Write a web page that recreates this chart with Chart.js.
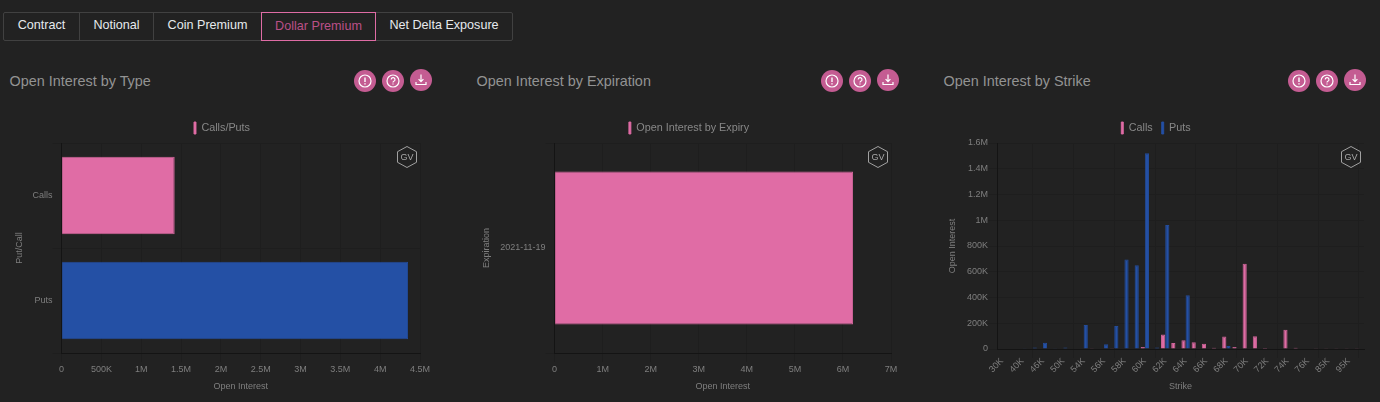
<!DOCTYPE html>
<html>
<head>
<meta charset="utf-8">
<title>Open Interest</title>
<script src="https://cdn.jsdelivr.net/npm/chart.js@4/dist/chart.umd.min.js"></script>
<style>
  html, body { margin: 0; padding: 0; background: #222222; width: 1380px; height: 402px; overflow: hidden; font-family: "Liberation Sans", Arial, sans-serif; }
  .tabs { position: absolute; left: 3px; top: 12px; width: 508px; height: 27px; border: 1px solid #414141; border-radius: 2px; }
  .tab { position: absolute; top: 0; height: 27px; line-height: 25px; text-align: center; font-size: 12.6px; color: #e6eaee; box-sizing: border-box; border-right: 1px solid #414141; }
  .tab.active { top: -1px; height: 29px; line-height: 27px; border: 1px solid #df6ca5; color: #bb5088; }
  .title { position: absolute; top: 71px; font-size: 14.4px; line-height: 20px; color: #939393; }
  .icon { position: absolute; width: 22px; height: 22px; }
  .gv { position: absolute; width: 24px; height: 26px; }
  canvas { position: absolute; top: 110px; height: 292px; }
</style>
</head>
<body>
<div class="tabs">
  <div class="tab" style="left:0;width:76px">Contract</div>
  <div class="tab" style="left:76px;width:74px">Notional</div>
  <div class="tab" style="left:150px;width:107px;border-right:0">Coin Premium</div>
  <div class="tab active" style="left:257px;width:115px">Dollar Premium</div>
  <div class="tab" style="left:372px;width:136px;border-right:0">Net Delta Exposure</div>
</div>
<div class="title" style="left:9.5px">Open Interest by Type</div>
<div class="title" style="left:476.5px">Open Interest by Expiration</div>
<div class="title" style="left:943.5px">Open Interest by Strike</div>
<div id="decor"></div>
<canvas id="typeChart" width="444" height="292" style="left:0;width:444px"></canvas>
<canvas id="expiryChart" width="444" height="292" style="left:467px;width:444px"></canvas>
<canvas id="strikeChart" width="443" height="292" style="left:934px;width:443px"></canvas>
<script>
const typeLabels = ['Calls', 'Puts'];
const typeValues = [1420000, 4350000];

const expiryLabels = ['2021-11-19'];
const expiryValues = [6210000];

const strikeLabels = ['30K', '35K', '40K', '45K', '46K', '48K', '50K', '52K', '54K', '55K', '56K', '57K',
  '58K', '59K', '60K', '61K', '62K', '63K', '64K', '65K', '66K', '67K', '68K', '69K',
  '70K', '71K', '72K', '73K', '74K', '75K', '76K', '80K', '85K', '90K', '95K', '100K'];
const strikeCalls = [0, 0, 0, 0, 0, 0, 0, 0, 0, 6000, 3000, 5000,
  0, 0, 15000, 3000, 113000, 46000, 67000, 52000, 41000, 10000, 98000, 15000,
  663000, 100000, 8000, 0, 150000, 10000, 4000, 5000, 2000, 1000, 1000, 1000];
const strikePuts = [0, 0, 2000, 12000, 49000, 2000, 12000, 0, 186000, 0, 36000, 178000,
  696000, 650000, 1520000, 12000, 964000, 3000, 417000, 0, 0, 0, 23000, 0,
  0, 0, 0, 0, 0, 0, 0, 0, 0, 0, 0, 0];

const COLORS = {
  pink: '#e06ca5',
  pinkEdge: 'rgba(224, 108, 165, 0.9)',
  blue: '#2450a5',
  blueEdge: 'rgba(36, 80, 165, 0.9)',
  grid: '#1e1e1e',
  zero: '#141414',
  text: '#7f7f7f',
  legend: '#888888',
  button: '#c45c92',
};

Chart.defaults.font.family = '"Liberation Sans", Arial, sans-serif';
Chart.defaults.animation = false;
Chart.defaults.responsive = false;

// the page centres each legend on the panel, not on the plot
const legendShift = {
  id: 'legendShift',
  afterLayout(chart, args, opts) {
    chart.legend.left += opts.dx;
    chart.legend.right += opts.dx;
    chart.legend.top += 1;
    chart.legend.bottom += 1;
  },
};

function shortNum(v) {
  if (v === 0) return '0';
  if (v >= 1000000) return (v / 1000000) + 'M';
  return (v / 1000) + 'K';
}

function axisTitle(text, pad) {
  return { display: true, text, color: COLORS.text, font: { size: 9 }, padding: { top: pad, bottom: pad } };
}

function gridOpts() {
  return { color: COLORS.grid, tickColor: COLORS.grid, tickLength: 9 };
}

function legendOpts() {
  return {
    display: true,
    position: 'top',
    labels: { boxWidth: 2, boxHeight: 12, color: COLORS.legend, font: { size: 10.8 }, padding: 9 },
  };
}

function horizontalBar(id, labels, datasets, opts) {
  return new Chart(document.getElementById(id), {
    type: 'bar',
    data: { labels, datasets },
    plugins: [legendShift],
    options: {
      indexAxis: 'y',
      layout: { padding: { top: 2, right: opts.right } },
      plugins: { legend: legendOpts(), tooltip: { enabled: false }, legendShift: { dx: opts.dx } },
      scales: {
        x: {
          min: 0, max: opts.max,
          ticks: { stepSize: opts.step, color: COLORS.text, font: { size: 9 }, padding: 2, maxRotation: 0, callback: v => shortNum(v) },
          grid: gridOpts(),
          border: { color: COLORS.zero },
          title: axisTitle('Open Interest', 10),
          afterFit: s => { s.height = 49; },
        },
        y: {
          ticks: { color: COLORS.text, font: { size: 9 }, padding: 0 },
          grid: gridOpts(),
          border: { color: COLORS.zero },
          title: axisTitle(opts.yTitle, opts.titlePad),
          afterFit: s => { s.width = opts.left; },
        },
      },
    },
  });
}

horizontalBar('typeChart', typeLabels, [{
  label: 'Calls/Puts',
  data: typeValues,
  backgroundColor: [COLORS.pink, COLORS.blue],
  borderColor: [COLORS.pinkEdge, COLORS.blueEdge],
  borderWidth: 1,
  categoryPercentage: 0.9,
  barPercentage: 0.82,
}], { left: 61.6, titlePad: 14, right: 24, dx: 12, max: 4500000, step: 500000, yTitle: 'Put/Call' });

horizontalBar('expiryChart', expiryLabels, [{
  label: 'Open Interest by Expiry',
  data: expiryValues,
  backgroundColor: COLORS.pink,
  borderColor: COLORS.pinkEdge,
  borderWidth: 1,
  categoryPercentage: 0.9,
  barPercentage: 0.81,
}], { left: 87.6, titlePad: 14.600, right: 20, dx: 10, max: 7000000, step: 1000000, yTitle: 'Expiration' });

new Chart(document.getElementById('strikeChart'), {
  type: 'bar',
  data: {
    labels: strikeLabels,
    datasets: [
      { label: 'Calls', data: strikeCalls, backgroundColor: COLORS.pink, borderColor: COLORS.pinkEdge, borderWidth: 1, categoryPercentage: 0.82, barPercentage: 1 },
      { label: 'Puts', data: strikePuts, backgroundColor: COLORS.blue, borderColor: COLORS.blueEdge, borderWidth: 1, categoryPercentage: 0.82, barPercentage: 1 },
    ],
  },
  plugins: [legendShift],
  options: {
    layout: { padding: { top: 2, right: 13 } },
    plugins: { legend: legendOpts(), tooltip: { enabled: false }, legendShift: { dx: 7 } },
    scales: {
      x: {
        ticks: { color: COLORS.text, font: { size: 9 }, padding: -2, minRotation: 45, maxRotation: 45, autoSkip: true, maxTicksLimit: 18 },
        grid: gridOpts(),
        border: { color: COLORS.zero },
        title: axisTitle('Strike', 10),
        afterFit: s => { s.height = 53; },
      },
      y: {
        min: 0, max: 1600000,
        ticks: { stepSize: 200000, color: COLORS.text, font: { size: 9 }, padding: 0, callback: v => shortNum(v) },
        grid: gridOpts(),
        border: { color: COLORS.zero },
        title: axisTitle('Open Interest', 13.6),
        afterFit: s => { s.width = 63; },
      },
    },
  },
});

// panel buttons and the GV badge, one set per chart
const ICONS = [
  '<circle cx="11" cy="11" r="6" fill="none" stroke="#fff" stroke-width="1.2"/><path d="M11 7.5v4.5M11 13.2v1.2" stroke="#fff" stroke-width="1.4"/>',
  '<circle cx="11" cy="11" r="6" fill="none" stroke="#fff" stroke-width="1.2"/><path d="M9.2 9.6a1.9 1.9 0 1 1 2.7 1.7c-.6.3-.9.6-.9 1.3M11 13.6v1" fill="none" stroke="#fff" stroke-width="1.2"/>',
  '<path d="M11 5.500v7M8.600 10.200l2.400 2.400 2.400-2.400M6 13v2.500h10V13" fill="none" stroke="#fff" stroke-width="1.2"/>',
];
const decor = document.getElementById('decor');
[365, 832, 1299].forEach(x0 => {
  ICONS.forEach((inner, i) => {
    const cx = x0 + i * 28;
    decor.insertAdjacentHTML('beforeend',
      `<svg class="icon" style="left:${cx - 11}px;top:${i === 2 ? 69 : 70}px" viewBox="0 0 22 22"><circle cx="11" cy="11" r="11" fill="${COLORS.button}"/>${inner}</svg>`);
  });
});
[406.5, 877.5, 1351].forEach(cx => {
  decor.insertAdjacentHTML('beforeend',
    `<svg class="gv" style="left:${cx - 12}px;top:143.5px;z-index:2" viewBox="0 0 24 26"><path d="M12 2.500l9.500 5.200v10.600L12 23.500l-9.500-5.200V7.700z" fill="none" stroke="#b0b0b0" stroke-width="0.9"/><text x="12" y="16.300" text-anchor="middle" font-size="9" fill="#a8a8a8" font-family="Liberation Sans">GV</text></svg>`);
});
</script>
</body>
</html>
